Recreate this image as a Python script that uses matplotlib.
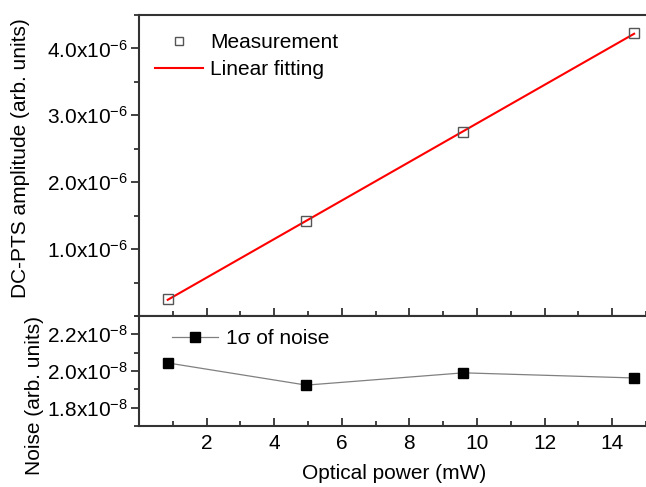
import numpy as np
import matplotlib
matplotlib.use("Agg")
import matplotlib.pyplot as plt
from matplotlib.ticker import FuncFormatter, MultipleLocator

plt.rcParams['font.family'] = ['Liberation Sans', 'DejaVu Sans']
plt.rcParams['mathtext.fontset'] = 'custom'
plt.rcParams['mathtext.rm'] = 'Liberation Sans'
plt.rcParams['mathtext.default'] = 'regular'

power = [0.85, 4.95, 9.6, 14.65]
amplitude = [0.25e-6, 1.42e-6, 2.75e-6, 4.23e-6]
noise = [2.044e-8, 1.923e-8, 1.99e-8, 1.962e-8]

x_ticks = [2, 4, 6, 8, 10, 12, 14]
top_yticks = [1.0e-6, 2.0e-6, 3.0e-6, 4.0e-6]
bot_yticks = [1.8e-8, 2.0e-8, 2.2e-8]

W, H = 646, 487
fig = plt.figure(figsize=(W / 100, H / 100), dpi=100)

left = 139 / W
right = 649 / W
ax1 = fig.add_axes([left, 1 - 316 / H, right - left, (316 - 15) / H])
ax2 = fig.add_axes([left, 1 - 426 / H, right - left, (426 - 316) / H], sharex=ax1)

fs = 15
spine_c = '#333333'

def fmt(v, exp):
    def f(y, pos):
        m = y / 10 ** exp
        return r'%.1fx10$^{%d}$' % (m, exp)
    return f

# fit
coef = np.polyfit(power, amplitude, 1)
xf = np.array([power[0], power[-1]])
ax1.plot(xf, np.polyval(coef, xf), color='#ff0000', lw=1.5, label='Linear fitting', zorder=2)
ax1.plot(power, amplitude, ls='none', marker='s', ms=6.5, mfc='none', mec='#555555', mew=1.0,
         label='Measurement', zorder=3)

ax2.plot(power, noise, color='#808080', lw=0.9, marker='s', ms=7, mfc='black', mec='black',
         label='1σ of noise')

ax1.set_xlim(0, 15.09)
ax1.set_ylim(0, 4.5e-6)
ax2.set_ylim(1.7e-8, 2.3e-8)

ax1.set_xticks(x_ticks)
ax1.xaxis.set_minor_locator(MultipleLocator(1))
ax1.set_yticks(top_yticks)
ax1.yaxis.set_minor_locator(MultipleLocator(0.5e-6))
ax1.yaxis.set_major_formatter(FuncFormatter(fmt(0, -6)))
ax2.set_yticks(bot_yticks)
ax2.yaxis.set_minor_locator(MultipleLocator(0.1e-8))
ax2.yaxis.set_major_formatter(FuncFormatter(fmt(0, -8)))

for ax in (ax1, ax2):
    for s in ax.spines.values():
        s.set_linewidth(1.5)
        s.set_color(spine_c)
    ax.spines['right'].set_visible(False)
    ax.tick_params(axis='x', which='major', direction='in', length=6, width=1.3, color=spine_c,
                   labelsize=fs, pad=6)
    ax.tick_params(axis='x', which='minor', direction='in', length=3.5, width=1.3, color=spine_c)
    ax.tick_params(axis='y', which='major', direction='out', length=6, width=1.3, color=spine_c,
                   labelsize=fs, pad=2)
    ax.tick_params(axis='y', which='minor', direction='out', length=3.5, width=1.3, color=spine_c)
    ax.tick_params(top=False, right=False)

ax1.tick_params(axis='x', which='both', labelbottom=False)

ax2.set_xlabel('Optical power (mW)', fontsize=fs, labelpad=8)
ax1.set_ylabel('DC-PTS amplitude (arb. units)', fontsize=fs)
ax2.set_ylabel('Noise (arb. units)', fontsize=fs)
ax1.yaxis.set_label_coords((30 - 139) / 510, 0.525)
ax2.yaxis.set_label_coords((44 - 139) / 510, 0.28)

h1, l1 = ax1.get_legend_handles_labels()
ax1.legend(h1[::-1], l1[::-1], loc='upper left', bbox_to_anchor=(155 / W, 1 - 33 / H),
           bbox_transform=fig.transFigure, frameon=False, markerscale=0.85,
           fontsize=fs, handlelength=2.3, handletextpad=0.35, labelspacing=0.38,
           borderaxespad=0, borderpad=0)
ax2.legend(loc='upper left', bbox_to_anchor=(172 / W, 1 - 329 / H),
           bbox_transform=fig.transFigure, frameon=False, fontsize=fs,
           handlelength=2.2, handletextpad=0.4, borderaxespad=0, borderpad=0)

fig.savefig('out.png', dpi=100)
